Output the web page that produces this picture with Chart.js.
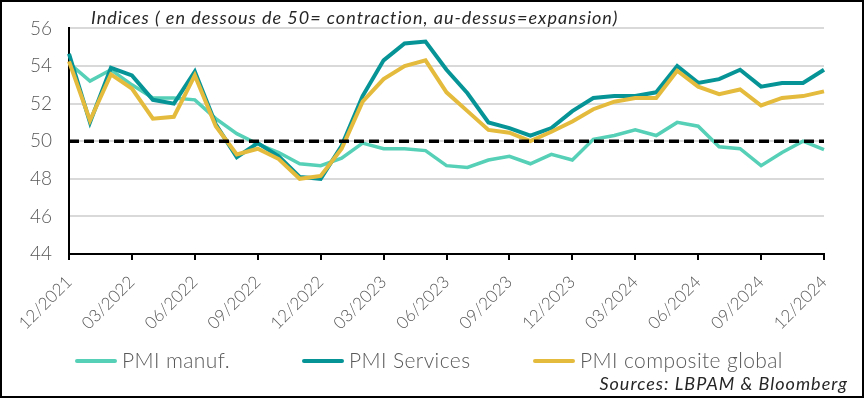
<!DOCTYPE html>
<html>
<head>
<meta charset="utf-8">
<script src="https://cdn.jsdelivr.net/npm/chart.js@4/dist/chart.umd.min.js"></script>
<style>
    body { margin: 0; background: #fff; }
    #wrap { position: relative; width: 864px; height: 398px; font-family: Lato, sans-serif; }
    #wrap canvas { position: absolute; left: 0; top: 0; }
    .frame { position: absolute; left: 0; top: 0; width: 864px; height: 398px; border: 2px solid #000; box-sizing: border-box; pointer-events: none; }
    .note { position: absolute; font-style: italic; color: #262626; white-space: nowrap; font-size: 18px; letter-spacing: 1px; }
    .leg { position: absolute; top: 347px; color: #595959; font-size: 21px; font-weight: 300; letter-spacing: 0.4px; white-space: nowrap; line-height: 26px; }
    .leg i { position: absolute; top: 12px; width: 42px; height: 4px; border-radius: 2px; }
</style>
</head>
<body>
<div id="wrap">
    <canvas id="pmiChart" width="864" height="398"></canvas>
    <div class="note" style="left: 91px; top: 6px;">Indices ( en dessous de 50= contraction, au-dessus=expansion)</div>
    <div id="legend"></div>
    <div class="note" style="right: 16px; top: 372px;">Sources: LBPAM &amp; Bloomberg</div>
    <div class="frame"></div>
</div>
<script>
// Monthly PMI readings, 12/2021 -> 12/2024
const months = [
    '12/2021',
    '01/2022', '02/2022', '03/2022', '04/2022', '05/2022', '06/2022',
    '07/2022', '08/2022', '09/2022', '10/2022', '11/2022', '12/2022',
    '01/2023', '02/2023', '03/2023', '04/2023', '05/2023', '06/2023',
    '07/2023', '08/2023', '09/2023', '10/2023', '11/2023', '12/2023',
    '01/2024', '02/2024', '03/2024', '04/2024', '05/2024', '06/2024',
    '07/2024', '08/2024', '09/2024', '10/2024', '11/2024', '12/2024'
];

const pmiManuf = [
    54.15, 53.2, 53.8, 53.0, 52.3, 52.3, 52.2, 51.2, 50.4, 49.85, 49.4, 48.8, 48.7,
    49.1, 49.9, 49.6, 49.6, 49.5, 48.7, 48.6, 49.0, 49.2, 48.8, 49.3, 49.0,
    50.1, 50.3, 50.6, 50.3, 51.0, 50.8, 49.7, 49.6, 48.7, 49.4, 50.0, 49.55
];
const pmiServices = [
    54.65, 51.0, 53.9, 53.5, 52.2, 52.0, 53.7, 50.9, 49.15, 49.9, 49.2, 48.1, 48.0,
    49.75, 52.4, 54.3, 55.2, 55.3, 53.8, 52.55, 51.0, 50.7, 50.3, 50.7, 51.6,
    52.3, 52.4, 52.4, 52.6, 54.0, 53.1, 53.3, 53.8, 52.9, 53.1, 53.1, 53.8
];
const pmiComposite = [
    54.25, 51.1, 53.55, 52.8, 51.2, 51.3, 53.5, 50.8, 49.3, 49.6, 49.05, 48.0, 48.15,
    49.6, 52.1, 53.3, 54.0, 54.3, 52.6, 51.6, 50.6, 50.45, 50.0, 50.5, 51.05,
    51.7, 52.1, 52.3, 52.3, 53.75, 52.9, 52.5, 52.75, 51.9, 52.3, 52.4, 52.65
];

const seriesNames = ['PMI manuf.', 'PMI Services', 'PMI composite global'];
const seriesColors = ['#56d0b6', '#079497', '#e4bb3d'];
const threshold = 50;

// dashed 50 line across the plot
const thresholdLine = {
    id: 'thresholdLine',
    afterDatasetsDraw(chart) {
        const { ctx, chartArea, scales } = chart;
        const y = scales.y.getPixelForValue(threshold);
        ctx.save();
        ctx.strokeStyle = '#000';
        ctx.lineWidth = 3.5;
        ctx.setLineDash([10, 5]);
        ctx.beginPath();
        ctx.moveTo(chartArea.left, y);
        ctx.lineTo(chartArea.right, y);
        ctx.stroke();
        ctx.restore();
    }
};

const ctx = document.getElementById('pmiChart').getContext('2d');
new Chart(ctx, {
    type: 'line',
    data: {
        labels: months,
        datasets: [
            { label: seriesNames[0], data: pmiManuf, borderColor: seriesColors[0], borderWidth: 3.5, order: 2 },
            { label: seriesNames[1], data: pmiServices, borderColor: seriesColors[1], borderWidth: 4, order: 1 },
            { label: seriesNames[2], data: pmiComposite, borderColor: seriesColors[2], borderWidth: 4, order: 0 }
        ]
    },
    options: {
        responsive: false,
        animation: false,
        devicePixelRatio: 1,
        elements: { point: { radius: 0 }, line: { tension: 0 } },
        layout: { padding: { top: 24, right: 40, left: 0, bottom: 0 } },
        scales: {
            x: {
                afterFit: s => { s.height = 144; },
                border: { color: '#000', width: 2 },
                grid: { drawOnChartArea: false, color: '#000', lineWidth: 2, tickLength: 6 },
                ticks: {
                    autoSkip: false,
                    minRotation: 45,
                    maxRotation: 45,
                    padding: 12,
                    color: '#595959',
                    font: { family: 'Lato', size: 17, weight: 300 },
                    callback: (v, i) => (i % 3 === 0 ? months[i] : null)
                }
            },
            y: {
                min: 44,
                max: 56,
                afterFit: s => { s.width = 69; },
                border: { color: '#000', width: 2 },
                grid: { color: '#d9d9d9', lineWidth: 2, drawTicks: false },
                ticks: {
                    stepSize: 2,
                    padding: 17,
                    color: '#595959',
                    font: { family: 'Lato', size: 19, weight: 300 }
                }
            }
        },
        plugins: { legend: { display: false }, tooltip: { enabled: false } }
    },
    plugins: [thresholdLine]
});

// legend laid out in fixed columns like the source
const legendX = [75, 302, 533];
const legend = document.getElementById('legend');
seriesNames.forEach((name, i) => {
    const item = document.createElement('div');
    item.className = 'leg';
    item.style.left = legendX[i] + 'px';
    item.style.paddingLeft = '47px';
    item.innerHTML = '<i style="left:0;background:' + seriesColors[i] + '"></i>' + name;
    legend.appendChild(item);
});
</script>
</body>
</html>
